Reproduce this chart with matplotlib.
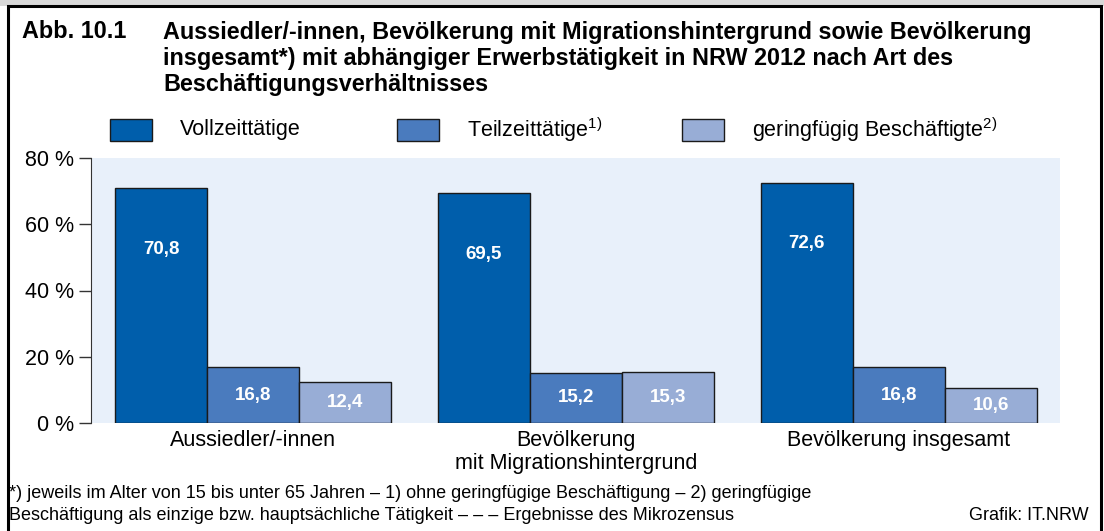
import numpy as np
import matplotlib.pyplot as plt
from matplotlib.patches import Rectangle

plt.rcParams['font.family'] = ['Liberation Sans', 'DejaVu Sans']
plt.rcParams['mathtext.fontset'] = 'custom'
plt.rcParams['mathtext.rm'] = 'Liberation Sans'

# Daten
gruppen = ['Aussiedler/-innen', 'Bevölkerung\nmit Migrationshintergrund', 'Bevölkerung insgesamt']
serien = ['Vollzeittätige', 'Teilzeittätige$^{1)}$', 'geringfügig Beschäftigte$^{2)}$']
vollzeit = [70.8, 69.5, 72.6]
teilzeit = [16.8, 15.2, 16.8]
geringfuegig = [12.4, 15.3, 10.6]
yticks = [0, 20, 40, 60, 80]

farben = ['#005EAB', '#4A7BBE', '#98ADD6']
W, H = 1104, 531


def fx(x):
    return x / W


def fy(y):
    return 1 - y / H


fig = plt.figure(figsize=(W / 100, H / 100), dpi=100)
fig.patch.set_facecolor('white')

# Rahmen
fig.add_artist(Rectangle((0, fy(6)), 1, 1, transform=fig.transFigure,
                         facecolor='#d8d8d8', edgecolor='none', zorder=-2))
fig.add_artist(Rectangle((fx(8), fy(540)), fx(1101) - fx(8), fy(6) - fy(540),
                         transform=fig.transFigure, facecolor='white',
                         edgecolor='black', linewidth=2.2, zorder=-1))

ax = fig.add_axes([fx(92), fy(423), fx(1060) - fx(92), fy(158) - fy(423)])
ax.set_facecolor('#E8F0FA')

x = np.arange(len(gruppen))
bw = 0.285
daten = [vollzeit, teilzeit, geringfuegig]
for i, (werte, farbe) in enumerate(zip(daten, farben)):
    pos = x + (i - 1) * bw
    ax.bar(pos, werte, width=bw, color=farbe, edgecolor='#1a1a1a', linewidth=1)
    for p, v in zip(pos, werte):
        ly = v - 18.5 if i == 0 else v / 2
        ax.text(p, ly, f'{v:.1f}'.replace('.', ','), ha='center', va='center',
                color='white', fontsize=13.5, fontweight='bold')

ax.set_xlim(-0.5, 2.5)
ax.set_ylim(0, 80)
ax.tick_params(axis='x', length=0, pad=5, labelsize=15.5)
ax.tick_params(axis='y', length=9, width=1, color='#333333', pad=3, labelsize=15.5)
ax.set_yticks(yticks)
ax.set_yticklabels([f'{t} %' for t in yticks])
ax.set_xticks(x)
ax.set_xticklabels(gruppen, linespacing=1.1)
for s in ['top', 'right', 'bottom']:
    ax.spines[s].set_visible(False)
ax.spines['left'].set_color('#333333')
ax.spines['left'].set_position(('outward', 1))

# Titel
titel = ['Aussiedler/-innen, Bevölkerung mit Migrationshintergrund sowie Bevölkerung',
         'insgesamt*) mit abhängiger Erwerbstätigkeit in NRW 2012 nach Art des',
         'Beschäftigungsverhältnisses']
fig.text(fx(22), fy(32), 'Abb. 10.1', fontsize=16.8, fontweight='bold', va='center')
for k, zeile in enumerate(titel):
    fig.text(fx(163), fy(32 + 26 * k), zeile, fontsize=16.8, fontweight='bold', va='center')

# Legende
leg_x = [110, 397, 682]
for lx, name, farbe in zip(leg_x, serien, farben):
    fig.add_artist(Rectangle((fx(lx), fy(141)), fx(42), 22 / H, transform=fig.transFigure,
                             facecolor=farbe, edgecolor='#1a1a1a', linewidth=1))
    fig.text(fx(lx + 70), fy(130), name, fontsize=15.5, va='center')

# Fußnoten
fig.text(fx(9), fy(494), '*) jeweils im Alter von 15 bis unter 65 Jahren – 1) ohne geringfügige '
         'Beschäftigung – 2) geringfügige', fontsize=13, va='center')
fig.text(fx(9), fy(516), 'Beschäftigung als einzige bzw. hauptsächliche Tätigkeit – – – '
         'Ergebnisse des Mikrozensus', fontsize=13, va='center')
fig.text(fx(1089), fy(516), 'Grafik: IT.NRW', fontsize=13, va='center', ha='right')

plt.savefig('out.png', dpi=100)
